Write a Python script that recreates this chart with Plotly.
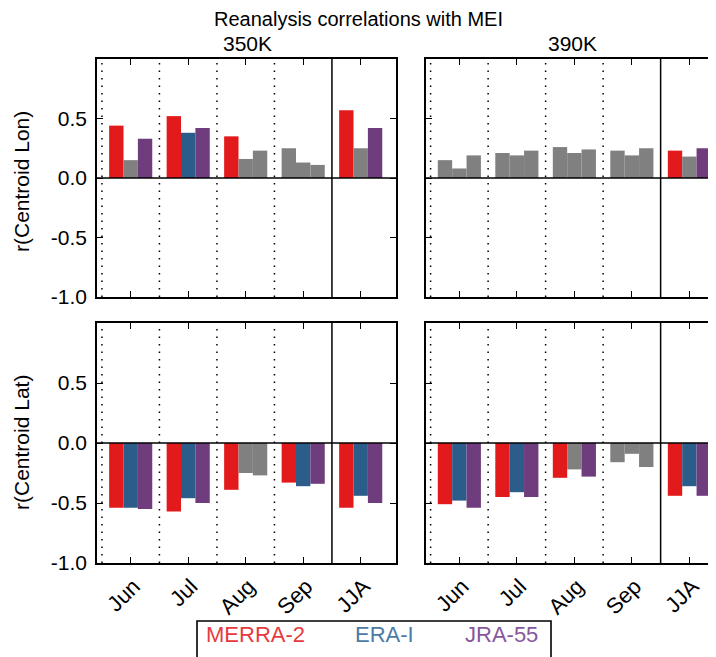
import plotly.graph_objects as go

months = ["Jun", "Jul", "Aug", "Sep", "JJA"]
datasets = ["MERRA-2", "ERA-I", "JRA-55"]

# 350K, centroid longitude
lon350_merra = [0.44, 0.52, 0.35, 0.25, 0.57]
lon350_erai = [0.15, 0.38, 0.16, 0.13, 0.25]
lon350_jra = [0.33, 0.42, 0.23, 0.11, 0.42]
lon350_sig = [[1, 1, 1, 0, 1], [0, 1, 0, 0, 0], [1, 1, 0, 0, 1]]

# 390K, centroid longitude
lon390_merra = [0.15, 0.21, 0.26, 0.23, 0.23]
lon390_erai = [0.08, 0.19, 0.21, 0.19, 0.18]
lon390_jra = [0.19, 0.23, 0.24, 0.25, 0.25]
lon390_sig = [[0, 0, 0, 0, 1], [0, 0, 0, 0, 0], [0, 0, 0, 0, 1]]

# 350K, centroid latitude
lat350_merra = [-0.54, -0.57, -0.39, -0.33, -0.54]
lat350_erai = [-0.54, -0.46, -0.25, -0.36, -0.44]
lat350_jra = [-0.55, -0.50, -0.27, -0.34, -0.50]
lat350_sig = [[1, 1, 1, 1, 1], [1, 1, 0, 1, 1], [1, 1, 0, 1, 1]]

# 390K, centroid latitude
lat390_merra = [-0.51, -0.45, -0.29, -0.16, -0.44]
lat390_erai = [-0.48, -0.41, -0.22, -0.09, -0.36]
lat390_jra = [-0.54, -0.45, -0.28, -0.20, -0.44]
lat390_sig = [[1, 1, 1, 0, 1], [1, 1, 0, 0, 1], [1, 1, 1, 0, 1]]

yticks = [-1.0, -0.5, 0.0, 0.5]
ytick_labels = ["-1.0", "-0.5", "0.0", "0.5"]

colors = ["#E31A1C", "#2B5C8A", "#6F3C7E"]
text_colors = ["#E63A40", "#4B7BA6", "#86579B"]
GRAY = "#808080"
FONT = "Liberation Sans, Arial, sans-serif"

# page body has an 8px margin; figure is sized to fill the rest of the window
OFF = 8
W, H = 716 - OFF, 657 - OFF


def px_x(v):
    return (v - OFF) / W


def px_y(v):
    return 1 - (v - OFF) / H


panels = [
    (1, [lon350_merra, lon350_erai, lon350_jra], lon350_sig, (97, 396), (59, 297), True, False, [-0.586, 4.614]),
    (2, [lon390_merra, lon390_erai, lon390_jra], lon390_sig, (426, 716), (59, 297), False, False, [-0.58, 4.463]),
    (3, [lat350_merra, lat350_erai, lat350_jra], lat350_sig, (97, 396), (323, 563), True, True, [-0.586, 4.614]),
    (4, [lat390_merra, lat390_erai, lat390_jra], lat390_sig, (426, 716), (323, 563), False, True, [-0.58, 4.463]),
]

fig = go.Figure()
offsets = [-0.375, -0.125, 0.125]
shapes = []
layout = {}
for idx, vals, sig, xd, yd, showy, showx, xr in panels:
    xa = "x" if idx == 1 else f"x{idx}"
    ya = "y" if idx == 1 else f"y{idx}"
    for k in range(3):
        cols = [colors[k] if s else GRAY for s in sig[k]]
        fig.add_trace(go.Bar(
            x=months, y=vals[k], xaxis=xa, yaxis=ya,
            marker=dict(color=cols, line=dict(width=0)),
            width=0.25, offset=offsets[k], showlegend=False, name=datasets[k],
        ))
    right_panel = xd[1] >= 716
    layout["xaxis" if idx == 1 else f"xaxis{idx}"] = dict(
        domain=[px_x(xd[0]), min(1.0, px_x(xd[1]))], anchor=ya, range=xr,
        type="category", categoryorder="array", categoryarray=months,
        showline=True, linecolor="black", linewidth=1.6, mirror="ticks",
        ticks="inside", ticklen=6, tickwidth=1.2, tickcolor="black",
        showticklabels=showx, tickangle=-45, ticklabelshift=3, ticklabelstandoff=0,
        tickfont=dict(family=FONT, size=22, color="black"),
        showgrid=False, zeroline=False, automargin=False,
    )
    layout["yaxis" if idx == 1 else f"yaxis{idx}"] = dict(
        domain=[px_y(yd[1]), px_y(yd[0])], anchor=xa, range=[-1, 1],
        tickvals=yticks, ticktext=ytick_labels,
        showline=True, linecolor="black", linewidth=1.6,
        mirror=(False if right_panel else "ticks"),
        ticks="inside", ticklen=6, tickwidth=1.2, tickcolor="black",
        showticklabels=showy, ticklabelstandoff=4,
        tickfont=dict(family=FONT, size=21, color="black"),
        showgrid=False, zeroline=False, automargin=False,
    )
    for sx in [-0.5, 0.5, 1.5, 2.5]:
        shapes.append(dict(type="line", xref=xa, yref=f"{ya} domain", x0=sx, x1=sx, y0=0, y1=1,
                           line=dict(color="black", width=1.5, dash="1.5px,6px")))
    shapes.append(dict(type="line", xref=xa, yref=f"{ya} domain", x0=3.5, x1=3.5, y0=0, y1=1,
                       line=dict(color="black", width=1.5)))
    shapes.append(dict(type="line", xref=f"{xa} domain", yref=ya, x0=0, x1=1, y0=0, y1=0,
                       line=dict(color="black", width=1.6)))

shapes.append(dict(type="rect", xref="paper", yref="paper",
                   x0=px_x(197), x1=px_x(551), y0=px_y(621), y1=px_y(690),
                   line=dict(color="black", width=1.6), fillcolor="rgba(0,0,0,0)"))


def ann(text, x, y, size, color="black", xanchor="center", angle=0):
    return dict(text=text, x=px_x(x), y=px_y(y), xref="paper", yref="paper",
                xanchor=xanchor, yanchor="middle", textangle=angle, showarrow=False,
                borderpad=0, font=dict(family=FONT, size=size, color=color))


annotations = [
    ann("Reanalysis correlations with MEI", 358, 19, 20),
    ann("350K", 247, 43, 21),
    ann("390K", 572, 43, 21),
    ann("r(Centroid Lon)", 21, 182, 21, angle=-90),
    ann("r(Centroid Lat)", 21, 443, 21, angle=-90),
    ann(datasets[0], 205, 634, 22, text_colors[0], "left"),
    ann(datasets[1], 385, 634, 22, text_colors[1], "center"),
    ann(datasets[2], 539, 634, 22, text_colors[2], "right"),
]

fig.update_layout(
    width=W, height=H, margin=dict(l=0, r=0, t=0, b=0),
    paper_bgcolor="white", plot_bgcolor="white",
    barmode="overlay", shapes=shapes, annotations=annotations,
    **layout,
)

fig.write_html("out.html")
